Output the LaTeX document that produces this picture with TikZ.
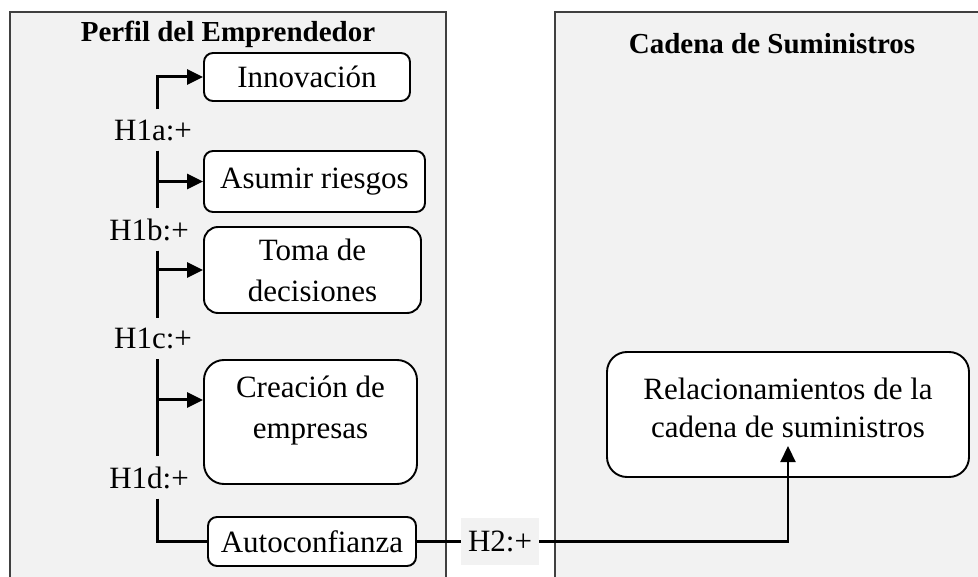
\documentclass[tikz,border=0pt]{standalone}
\usepackage{fontspec}
\setmainfont{Liberation Serif}
\usetikzlibrary{arrows.meta}
\newcommand{\boxfont}{\fontsize{31}{41}\selectfont}
\newcommand{\titlefont}{\fontsize{29}{34}\selectfont\bfseries}

\begin{document}
\begin{tikzpicture}[x=1pt,y=-1pt,
    panel/.style={draw=black!75,line width=1.4pt,fill=black!5},
    box/.style={draw=black,line width=1.9pt,fill=white,rounded corners=9pt,
      align=center,inner sep=0pt,font=\boxfont},
    hyp/.style={fill=black!5,inner xsep=7pt,inner ysep=10pt,font=\boxfont},
    link/.style={line width=3pt},
    arr/.style={link,-{Triangle[length=16pt,width=15pt]}}]
    \useasboundingbox (0,0) rectangle (978,577);
    \clip (0,0) rectangle (978,577);
    \fill[white] (0,0) rectangle (978,577);
    % the two blocks
    \draw[panel] (10,12) rectangle (446,600);
    \draw[panel] (555,12) rectangle (1000,600);
    \node[font=\titlefont] (perfil) at (228,34) {Perfil del Emprendedor};
    \node[font=\titlefont] (cadena) at (772,44) {Cadena de Suministros};
    % dimensions of the profile
    \node[box,minimum width=206,minimum height=48] (innov) at (307,77) {Innovación};
    \node[box,minimum width=221,minimum height=61] (asumir) at (314.5,181.5) {Asumir riesgos};
    \node[box,minimum width=217,minimum height=86,rounded corners=14pt] (toma) at (312.5,270) {Toma de\\decisiones};
    \node[box,minimum width=213,minimum height=124,rounded corners=20pt] (creacion) at (310.5,422) {Creación de\\empresas\\[-24pt]\strut};
    \node[box,minimum width=208,minimum height=49] (auto) at (312,541.5) {Autoconfianza};
    \node[box,minimum width=362,minimum height=125,rounded corners=20pt,
      font=\fontsize{31}{38}\selectfont] (rel) at (788,414.5) {Relacionamientos de la\\cadena de suministros\\[-35pt]\strut};
    % hypotheses
    \node[hyp] (h1a) at (153,130) {H1a:+};
    \node[hyp] (h1b) at (149,229.5) {H1b:+};
    \node[hyp] (h1c) at (153,338.5) {H1c:+};
    \node[hyp] (h1d) at (149,477.5) {H1d:+};
    \node[hyp,inner ysep=13pt] (h2) at (500,541.5) {H2:+};
    \coordinate (sp) at (157,0);
    \coordinate (reltip) at (788,446);
    \draw[arr] (h1a.north -| sp) |- (innov.west);
    \draw[link] (h1a.south -| sp) -- (h1b.north -| sp);
    \draw[arr] (h1a.south -| sp) |- (asumir.west);
    \draw[link] (h1b.south -| sp) -- (h1c.north -| sp);
    \draw[arr] (h1b.south -| sp) |- (toma.west);
    \draw[link] (h1c.south -| sp) -- (h1d.north -| sp);
    \draw[arr] (h1c.south -| sp) |- ([yshift=22pt]creacion.west);
    \draw[link] (h1d.south -| sp) |- (auto.west);
    \draw[link,line width=2.2pt] (auto.east) -- (h2.west);
    \draw[arr,line width=2.2pt] (h2.east) -| (reltip);
\end{tikzpicture}
\end{document}
